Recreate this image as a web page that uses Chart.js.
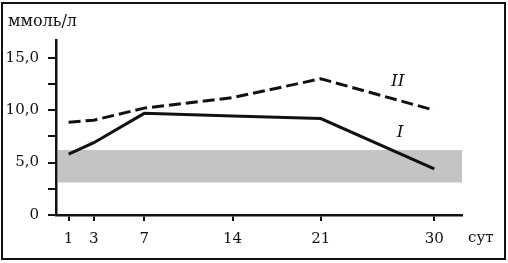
<!DOCTYPE html>
<html><head><meta charset="utf-8">
<script src="https://cdn.jsdelivr.net/npm/chart.js@4/dist/chart.umd.min.js"></script>
<style>html,body{margin:0;padding:0;background:#fff}#w{width:508px;height:263px;position:relative}</style>
</head><body><div id="w"><canvas id="c" width="508" height="263"></canvas></div>
<script>
const days = [1, 3, 7, 14, 21, 30];
const seriesI = [5.8, 6.9, 9.7, 9.45, 9.2, 4.4];
const seriesII = [8.85, 9.05, 10.2, 11.2, 13.0, 10.0];
const normRange = [3.1, 6.2];
const yTicks = [0, 2.5, 5, 7.5, 10, 12.5, 15];
const yLabels = {0: '0', 5: '5,0', 10: '10,0', 15: '15,0'};
const xTicks = [1, 3, 7, 14, 21, 30];
const unitY = 'ммоль/л';
const unitX = 'сут';
const seriesNames = ['I', 'II'];

const FONT = '"DejaVu Serif", "Liberation Serif", serif';
const pts = v => days.map((d, i) => ({x: d, y: v[i]}));

const deco = {
  id: 'deco',
  beforeDatasetsDraw(chart) {
    const {ctx, chartArea: a, scales: {x, y}} = chart;
    ctx.save();
    ctx.fillStyle = '#c4c4c4';
    const y1 = y.getPixelForValue(normRange[1]), y0 = y.getPixelForValue(normRange[0]);
    ctx.fillRect(a.left + 2, y1, a.right - a.left - 2, y0 - y1);
    ctx.restore();
  },
  afterDraw(chart) {
    const {ctx, scales: {x, y}} = chart;
    ctx.save();
    ctx.fillStyle = '#111';
    ctx.font = '16px ' + FONT;
    ctx.textBaseline = 'middle';
    ctx.textAlign = 'left';
    ctx.fillText(unitY, 8, 22);
    ctx.font = '15px ' + FONT;
    ctx.fillText(unitX, 468, 238);
    ctx.font = 'italic 17px ' + FONT;
    ctx.textAlign = 'center';
    ctx.fillText(seriesNames[1], x.getPixelForValue(27.1), y.getPixelForValue(12.7));
    ctx.fillText(seriesNames[0], x.getPixelForValue(27.3), y.getPixelForValue(7.9));
    ctx.strokeStyle = '#111';
    ctx.lineWidth = 2;
    ctx.strokeRect(2, 3, 503, 256);
    ctx.restore();
  }
};

new Chart(document.getElementById('c'), {
  type: 'line',
  data: {
    datasets: [
      {data: pts(seriesI), borderColor: '#111', borderWidth: 3, pointRadius: 0, tension: 0, fill: false},
      {data: pts(seriesII), borderColor: '#111', borderWidth: 3, borderDash: [12, 5], pointRadius: 0, tension: 0, fill: false}
    ]
  },
  options: {
    responsive: false,
    animation: false,
    events: [],
    layout: {padding: {top: 40, right: 46, left: 0, bottom: 0}},
    plugins: {legend: {display: false}, tooltip: {enabled: false}},
    scales: {
      x: {
        type: 'linear', min: 0, max: 32.2,
        afterBuildTicks: s => { s.ticks = xTicks.map(v => ({value: v})); },
        afterFit: s => { s.height = 48; },
        grid: {display: true, drawOnChartArea: false, drawTicks: true, tickLength: 6, color: '#111', lineWidth: 2},
        border: {display: true, color: '#111', width: 2.5},
        ticks: {color: '#111', font: {family: FONT, size: 15}, padding: 9, maxRotation: 0, autoSkip: false}
      },
      y: {
        type: 'linear', min: 0, max: 16.7,
        afterBuildTicks: s => { s.ticks = yTicks.map(v => ({value: v})); },
        afterFit: s => { s.width = 56; },
        grid: {display: true, drawOnChartArea: false, drawTicks: true, tickLength: 8, color: '#111', lineWidth: 2},
        border: {display: true, color: '#111', width: 2.5},
        ticks: {color: '#111', font: {family: FONT, size: 15}, padding: 9, autoSkip: false,
          callback: v => (yLabels[v] !== undefined ? yLabels[v] : '')}
      }
    }
  },
  plugins: [deco]
});
</script></body></html>
